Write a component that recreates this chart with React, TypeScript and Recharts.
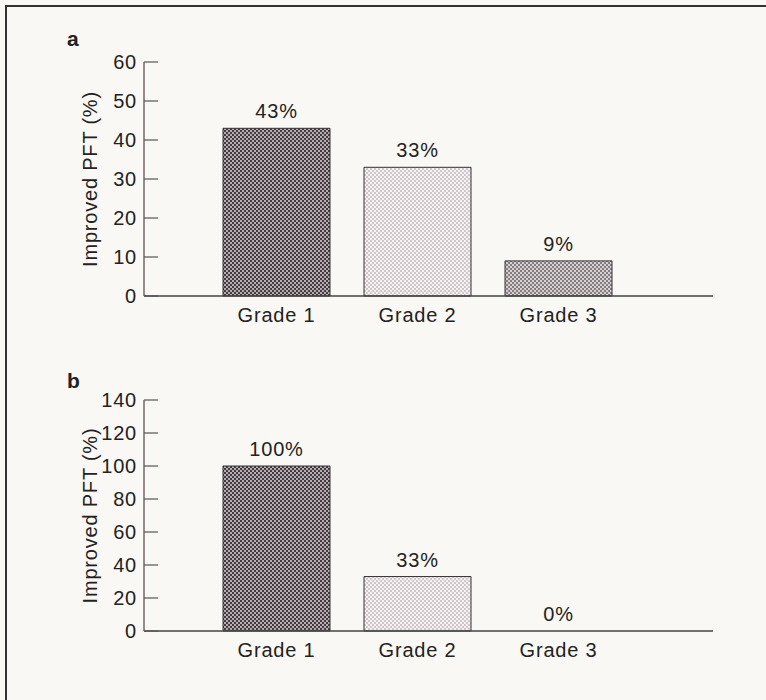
import { Bar, BarChart, Cell, Label, LabelList, ReferenceDot, XAxis, YAxis } from 'recharts';

const grades = ['Grade 1', 'Grade 2', 'Grade 3'];
const valuesA = [43, 33, 9];
const valuesB = [100, 33, 0];
const ticksA = [0, 10, 20, 30, 40, 50, 60];
const ticksB = [0, 20, 40, 60, 80, 100, 120, 140];

const dataA = grades.map((g, i) => ({ name: g, v: valuesA[i] }));
const dataB = grades.map((g, i) => ({ name: g, v: valuesB[i] }));

const font = '"Liberation Sans", Arial, Helvetica, sans-serif';
const ink = '#222';
const txt = { fontSize: 20, fill: ink, fontFamily: font, letterSpacing: 0.8 };

const YTick = (props: any) => {
    const { x, y, payload } = props;
    return (
        <g>
            <line x1={x + 7} x2={x + 21} y1={y} y2={y} stroke="#555" strokeWidth={1.2} />
            <text x={x} y={y} dy="0.36em" textAnchor="end" style={txt}>
                {payload.value}
            </text>
        </g>
    );
};

function Patterns({ p }: { p: string }) {
    return (
        <defs>
            <pattern id={p + '1'} width="4" height="4" patternUnits="userSpaceOnUse">
                <rect width="4" height="4" fill="#b4acb0" />
                <rect width="2" height="2" fill="#443c40" />
                <rect x="2" y="2" width="2" height="2" fill="#443c40" />
            </pattern>
            <pattern id={p + '2'} width="4" height="4" patternUnits="userSpaceOnUse">
                <rect width="4" height="4" fill="#f6f2f2" />
                <rect width="2" height="2" fill="#cfc6ca" />
                <rect x="2" y="2" width="2" height="2" fill="#cfc6ca" />
            </pattern>
            <pattern id={p + '3'} width="4" height="4" patternUnits="userSpaceOnUse">
                <rect width="4" height="4" fill="#d6d0d2" />
                <rect width="2" height="2" fill="#857d81" />
                <rect x="2" y="2" width="2" height="2" fill="#857d81" />
            </pattern>
        </defs>
    );
}

function Panel({ data, ticks, max, height, bottom, p }: any) {
    return (
        <BarChart
            width={766}
            height={height}
            data={data}
            margin={{ top: 60, right: 53, left: 0, bottom }}
        >
            <Patterns p={p} />
            <XAxis
                dataKey="name"
                padding={{ left: 62, right: 84 }}
                tickLine={false}
                tickMargin={6}
                axisLine={{ stroke: '#444', strokeWidth: 1.5 }}
                tick={txt}
            />
            <YAxis
                width={144}
                domain={[0, max]}
                ticks={ticks}
                interval={0}
                tickLine={false}
                tickSize={0}
                tickMargin={7}
                axisLine={{ stroke: '#554449', strokeWidth: 1.2 }}
                tick={<YTick />}
            >
                <Label value="Improved PFT (%)" angle={-90} position="center" dx={18} style={txt} />
            </YAxis>
            <Bar dataKey="v" barSize={107} stroke="#333" strokeWidth={1} isAnimationActive={false}>
                {data.map((_: any, i: number) => (
                    <Cell key={i} fill={`url(#${p}${i + 1})`} />
                ))}
                <LabelList dataKey="v" position="top" offset={10} formatter={(v: any) => v + '%'} style={txt} />
            </Bar>
            {data
                .filter((d: any) => d.v === 0)
                .map((d: any) => (
                    <ReferenceDot
                        key={d.name}
                        x={d.name}
                        y={d.v}
                        r={0}
                        stroke="none"
                        fill="none"
                        label={{ value: d.v + '%', position: 'top', offset: 10, style: txt }}
                    />
                ))}
        </BarChart>
    );
}

export default function App() {
    const panelLabel = { position: 'absolute' as const, left: 67, fontWeight: 700, fontSize: 21, fontFamily: font, color: ink };
    return (
        <div style={{ position: 'absolute', left: 0, top: 0, width: 766, height: 700, background: '#faf8f5', overflow: 'hidden' }}>
            <div style={{ position: 'absolute', left: 5, top: 5, width: 800, height: 800, borderLeft: '2px solid #333', borderTop: '2px solid #333' }} />
            <div style={{ ...panelLabel, top: 27 }}>a</div>
            <div style={{ ...panelLabel, top: 369 }}>b</div>
            <div style={{ position: 'absolute', left: 0, top: 2 }}>
                <Panel data={dataA} ticks={ticksA} max={60} height={338} bottom={14} p="pa" />
            </div>
            <div style={{ position: 'absolute', left: 0, top: 340 }}>
                <Panel data={dataB} ticks={ticksB} max={140} height={360} bottom={39} p="pb" />
            </div>
        </div>
    );
}
